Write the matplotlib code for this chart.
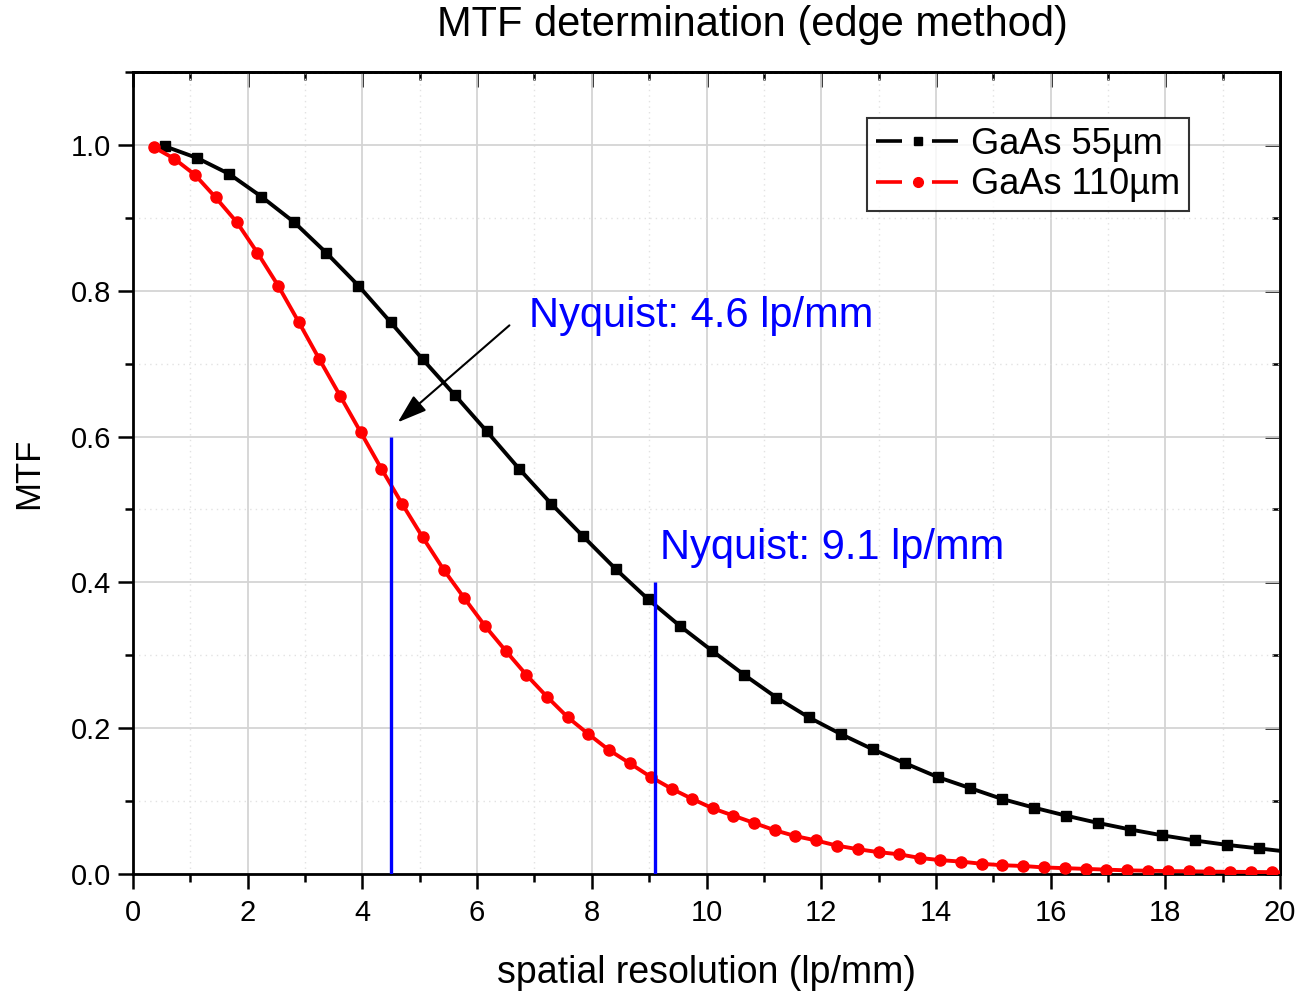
import matplotlib
matplotlib.use("Agg")
import matplotlib.pyplot as plt
from matplotlib.ticker import MultipleLocator
from matplotlib.lines import Line2D

plt.rcParams['font.family'] = ['Liberation Sans', 'DejaVu Sans']

# ---- data ----
x_55 = [0.56, 1.12, 1.68, 2.24, 2.81, 3.37, 3.93, 4.49, 5.05, 5.61, 6.17, 6.73,
        7.29, 7.85, 8.42, 8.98, 9.54, 10.10, 10.66, 11.22, 11.78, 12.34, 12.90,
        13.46, 14.03, 14.59, 15.15, 15.71, 16.27, 16.83, 17.39, 17.95, 18.51,
        19.07, 19.64, 20.20]
mtf_55 = [0.998, 0.982, 0.960, 0.929, 0.894, 0.852, 0.807, 0.757, 0.706, 0.657,
          0.607, 0.556, 0.508, 0.463, 0.418, 0.377, 0.340, 0.306, 0.273, 0.242,
          0.215, 0.192, 0.171, 0.152, 0.133, 0.118, 0.103, 0.091, 0.080, 0.070,
          0.061, 0.053, 0.046, 0.040, 0.035, 0.030]

x_110 = [0.36, 0.72, 1.08, 1.44, 1.81, 2.17, 2.53, 2.89, 3.25, 3.61, 3.97, 4.33,
         4.69, 5.05, 5.42, 5.78, 6.14, 6.50, 6.86, 7.22, 7.58, 7.94, 8.30, 8.66,
         9.03, 9.39, 9.75, 10.11, 10.47, 10.83, 11.19, 11.55, 11.91, 12.27,
         12.64, 13.00, 13.36, 13.72, 14.08, 14.44, 14.80, 15.16, 15.52, 15.88,
         16.25, 16.61, 16.97, 17.33, 17.69, 18.05, 18.41, 18.77, 19.13, 19.49,
         19.86, 20.22]
mtf_110 = [0.997, 0.981, 0.959, 0.928, 0.894, 0.852, 0.807, 0.757, 0.706, 0.656,
           0.606, 0.556, 0.508, 0.462, 0.417, 0.378, 0.340, 0.306, 0.273, 0.243,
           0.215, 0.192, 0.170, 0.152, 0.133, 0.117, 0.103, 0.090, 0.080, 0.070,
           0.060, 0.052, 0.046, 0.039, 0.034, 0.030, 0.027, 0.022, 0.019, 0.017,
           0.014, 0.012, 0.011, 0.009, 0.008, 0.007, 0.006, 0.005, 0.0045, 0.004,
           0.0037, 0.0032, 0.003, 0.0028, 0.0025, 0.002]

series_labels = ['GaAs 55µm', 'GaAs 110µm']
nyquist_x = [4.5, 9.1]
nyquist_top = [0.6, 0.4]
nyquist_text = ['Nyquist: 4.6 lp/mm', 'Nyquist: 9.1 lp/mm']

# ---- figure ----
fig = plt.figure(figsize=(13, 9.94), dpi=100)
ax = fig.add_axes([133/1300, 1-874/994, 1147/1300, 802/994])

ax.set_xlim(0, 20)
ax.set_ylim(0, 1.1)

ax.xaxis.set_major_locator(MultipleLocator(2))
ax.xaxis.set_minor_locator(MultipleLocator(1))
ax.yaxis.set_major_locator(MultipleLocator(0.2))
ax.yaxis.set_minor_locator(MultipleLocator(0.1))
ax.yaxis.set_major_formatter(matplotlib.ticker.FormatStrFormatter('%.1f'))

ax.grid(which='major', color='#d4d4d4', lw=1.3, ls='-')
ax.grid(which='minor', color='#e2e2e2', lw=1.0, ls=(0, (1, 3)))
ax.set_axisbelow(True)

for s in ax.spines.values():
    s.set_linewidth(2.0)

ax.tick_params(which='major', direction='out', length=11, width=1.8,
               labelsize=21, pad=5, top=False, right=False)
ax.tick_params(which='minor', direction='out', length=6, width=1.8,
               top=False, right=False)
ax.tick_params(axis='x', which='major', pad=7)

# top / right inward ticks
secx = ax.secondary_xaxis('top')
secx.xaxis.set_major_locator(MultipleLocator(2))
secx.xaxis.set_minor_locator(MultipleLocator(1))
secx.tick_params(which='major', direction='in', length=11, width=1.8, labeltop=False)
secx.tick_params(which='minor', direction='in', length=6, width=1.8)
secx.spines['top'].set_linewidth(2.0)
secy = ax.secondary_yaxis('right')
secy.yaxis.set_major_locator(MultipleLocator(0.2))
secy.yaxis.set_minor_locator(MultipleLocator(0.1))
secy.tick_params(which='major', direction='in', length=11, width=1.8, labelright=False)
secy.tick_params(which='minor', direction='in', length=6, width=1.8)
secy.spines['right'].set_linewidth(2.0)

ax.plot(x_55, mtf_55, color='black', lw=2.8, marker='s', ms=7.5, zorder=4)
ax.plot(x_110, mtf_110, color='red', lw=2.8, marker='o', ms=8, zorder=4)

for xv, top in zip(nyquist_x, nyquist_top):
    ax.vlines(xv, 0, top, color='blue', lw=2.4, zorder=5)

ax.text(6.9, 0.765, nyquist_text[0], color='blue', fontsize=30,
        ha='left', va='center')
ax.text(9.19, 0.447, nyquist_text[1], color='blue', fontsize=30,
        ha='left', va='center')
ax.annotate('', xy=(4.58, 0.617), xytext=(6.6, 0.755),
            arrowprops=dict(arrowstyle='-|>,head_length=0.9,head_width=0.3',
                            lw=1.5, color='black', mutation_scale=20))

# legend handles in Origin style: line - gap - symbol - gap - line
dash = (0, (7.2, 8.3))
h55 = (Line2D([], [], color='black', lw=2.6, ls=dash),
       Line2D([], [], color='black', ls='none', marker='s', ms=6))
h110 = (Line2D([], [], color='red', lw=2.6, ls=dash),
        Line2D([], [], color='red', ls='none', marker='o', ms=7))
leg = ax.legend([h55, h110], series_labels, loc='upper right',
                bbox_to_anchor=(0.921, 0.943),
                borderaxespad=0, fontsize=26, frameon=True, fancybox=False,
                handlelength=2.35, handletextpad=0.3, borderpad=0.25,
                labelspacing=0.15)
leg.get_frame().set_edgecolor('black')
leg.get_frame().set_linewidth(1.5)

fig.text(752/1300, 1-25/994, 'MTF determination (edge method)', fontsize=30,
         ha='center', va='center')
ax.set_xlabel('spatial resolution (lp/mm)', fontsize=27, labelpad=20)
ax.set_ylabel('MTF', fontsize=25, labelpad=18)

fig.savefig('out.png', dpi=100, facecolor='white')
